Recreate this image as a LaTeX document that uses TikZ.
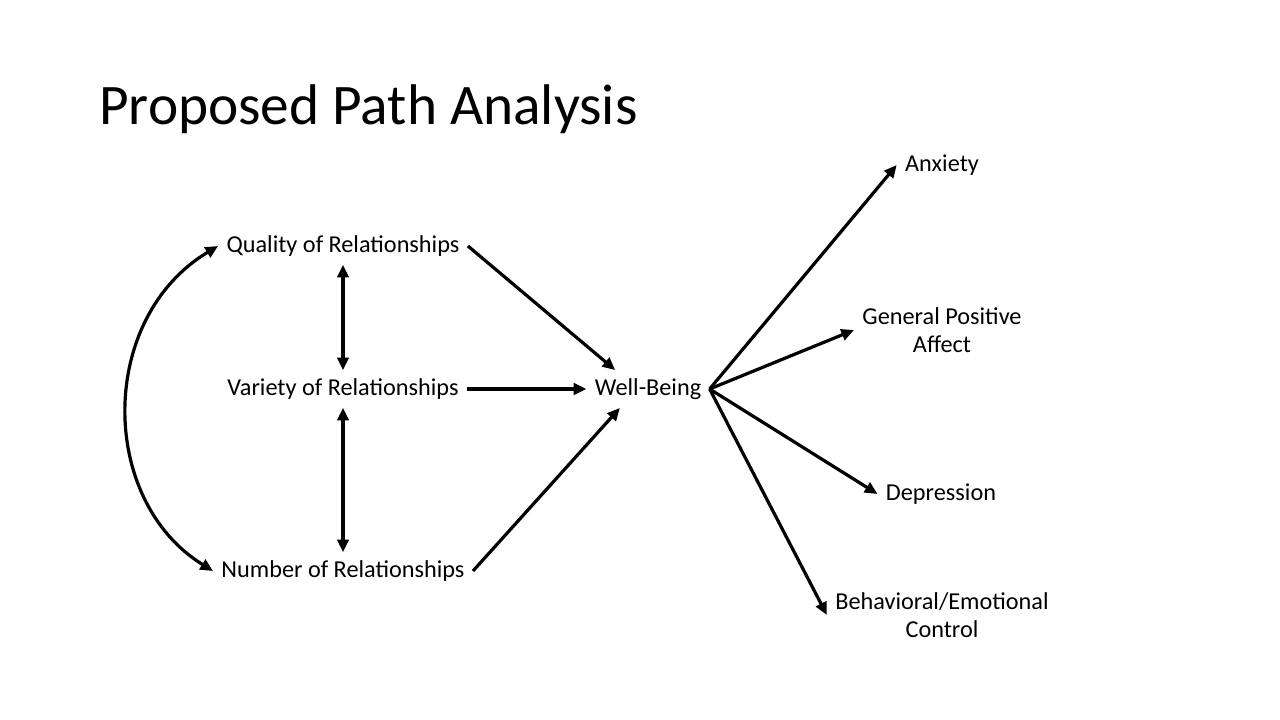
\documentclass[tikz,border=0pt]{standalone}
\usepackage{fontspec}
\setmainfont{Carlito}
\usetikzlibrary{arrows.meta}
\tikzset{
  lbl/.style={align=center, outer sep=3pt, font=\fontsize{18.2}{21}\selectfont},
  path/.style={line width=2.4pt, -{Triangle[length=9.5pt,width=8.5pt]}},
  both/.style={line width=2.4pt, {Triangle[length=9.5pt,width=8.5pt]}-{Triangle[length=9.5pt,width=8.5pt]}}
}
\begin{document}
\begin{tikzpicture}[x=0.75pt,y=-0.75pt]
    \useasboundingbox (0,0) rectangle (1280,720);
    \node[anchor=base west, inner sep=0, font=\fontsize{43}{50}\selectfont] (title) at (99,125) {Proposed Path Analysis};
    % predictors
    \node[lbl] (qual) at (343,246) {Quality of Relationships};
    \node[lbl] (var) at (343,389) {Variety of Relationships};
    \node[lbl] (num) at (343,571) {Number of Relationships};
    \node[lbl] (wb) at (648,389) {Well-Being};
    % outcomes
    \node[lbl] (anx) at (942,165) {Anxiety};
    \node[lbl] (gpa) at (942,330) {General Positive\\Affect};
    \node[lbl] (dep) at (941,494) {Depression};
    \node[lbl] (beh) at (942,615) {Behavioral/Emotional\\Control};
    \draw[path] (qual.east) -- (wb.150);
    \draw[path] (var.east) -- (wb.west);
    \draw[path] (num.east) -- (wb.214);
    \draw[both] (qual.south) -- (var.north);
    \draw[both] (var.south) -- (num.north);
    \draw[both] (num.west) .. controls (98,500) and (98,318) .. (qual.west);
    \draw[path] (wb.east) -- (anx.west);
    \draw[path] (wb.east) -- (gpa.west);
    \draw[path] (wb.east) -- (dep.west);
    \draw[path] (wb.east) -- (beh.west);
\end{tikzpicture}
\end{document}
